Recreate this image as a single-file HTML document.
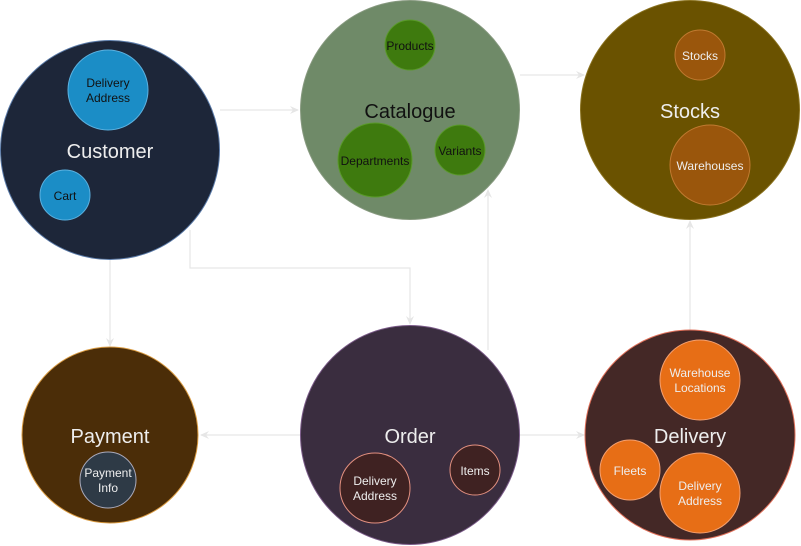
<!DOCTYPE html>
<html><head><meta charset="utf-8"><style>
html,body{margin:0;padding:0;background:#fff;width:801px;height:546px;overflow:hidden}
svg{display:block;font-family:"Liberation Sans",Arial,sans-serif}
</style></head><body>
<svg width="801" height="546" viewBox="0 0 801 546" xmlns="http://www.w3.org/2000/svg">
<defs><marker id="a" markerWidth="10" markerHeight="10" refX="8" refY="5" orient="auto" markerUnits="userSpaceOnUse"><path d="M0,1 L9,5 L0,9 L3,5 Z" fill="#e6e6e6"/></marker></defs>
<g stroke="#e6e6e6" stroke-width="1.2" fill="none">
<path d="M220,110 H298" marker-end="url(#a)"/>
<path d="M520,75 H584" marker-end="url(#a)"/>
<path d="M110,260 V346" marker-end="url(#a)"/>
<path d="M190,230 V268 H410 V324" marker-end="url(#a)"/>
<path d="M488,350 V190" marker-end="url(#a)"/>
<path d="M300,435 H201" marker-end="url(#a)"/>
<path d="M520,435 H584" marker-end="url(#a)"/>
<path d="M690,330 V221" marker-end="url(#a)"/>
</g>
<!-- Customer -->
<circle cx="110" cy="150" r="109.5" fill="#1d2639" stroke="#5a7aa8" stroke-width="1"/>
<circle cx="108" cy="90" r="40" fill="#1b8dc6" stroke="#5cb1e0"/>
<circle cx="65" cy="195" r="25" fill="#1b8dc6" stroke="#5cb1e0"/>
<!-- Catalogue -->
<circle cx="410" cy="110" r="109.5" fill="#6f8a68" stroke="#889a80"/>
<circle cx="410" cy="45" r="25" fill="#3e7a0e" stroke="#5a9a2a"/>
<circle cx="375" cy="160" r="37" fill="#3e7a0e" stroke="#5a9a2a"/>
<circle cx="460" cy="150" r="25" fill="#3e7a0e" stroke="#5a9a2a"/>
<!-- Stocks -->
<circle cx="690" cy="110" r="109.5" fill="#6a5200" stroke="#8a7220"/>
<circle cx="700" cy="55" r="25" fill="#9a560c" stroke="#c07a30"/>
<circle cx="710" cy="165" r="40" fill="#9a560c" stroke="#c07a30"/>
<!-- Payment -->
<circle cx="110" cy="435" r="88" fill="#4b2d08" stroke="#d99a40"/>
<circle cx="108" cy="480" r="28" fill="#2e3a46" stroke="#aab"/>
<!-- Order -->
<circle cx="410" cy="435" r="109.5" fill="#3a2d3f" stroke="#7a5a88"/>
<circle cx="375" cy="488" r="35" fill="#3f2222" stroke="#e39080"/>
<circle cx="475" cy="470" r="25" fill="#3f2222" stroke="#e39080"/>
<!-- Delivery -->
<circle cx="690" cy="435" r="105" fill="#442826" stroke="#e0705a"/>
<circle cx="700" cy="380" r="40" fill="#e76e16" stroke="#f4a070"/>
<circle cx="630" cy="470" r="30" fill="#e76e16" stroke="#f4a070"/>
<circle cx="700" cy="493" r="40" fill="#e76e16" stroke="#f4a070"/>
<g text-anchor="middle" font-size="12">
<text x="108" y="87" fill="#111">Delivery</text><text x="108" y="102" fill="#111">Address</text>
<text x="65" y="200" fill="#111">Cart</text>
<text x="110" y="158" font-size="20" fill="#eee">Customer</text>
<text x="410" y="50" fill="#111">Products</text>
<text x="375" y="165" fill="#111">Departments</text>
<text x="460" y="155" fill="#111">Variants</text>
<text x="410" y="118" font-size="20" fill="#111">Catalogue</text>
<text x="700" y="60" fill="#eee">Stocks</text>
<text x="710" y="170" fill="#eee">Warehouses</text>
<text x="690" y="118" font-size="20" fill="#eee">Stocks</text>
<text x="110" y="443" font-size="20" fill="#eee">Payment</text>
<text x="108" y="477" fill="#eee">Payment</text><text x="108" y="492" fill="#eee">Info</text>
<text x="410" y="443" font-size="20" fill="#eee">Order</text>
<text x="375" y="485" fill="#eee">Delivery</text><text x="375" y="500" fill="#eee">Address</text>
<text x="475" y="475" fill="#eee">Items</text>
<text x="690" y="443" font-size="20" fill="#eee">Delivery</text>
<text x="700" y="377" fill="#eee">Warehouse</text><text x="700" y="392" fill="#eee">Locations</text>
<text x="630" y="475" fill="#eee">Fleets</text>
<text x="700" y="490" fill="#eee">Delivery</text><text x="700" y="505" fill="#eee">Address</text>
</g>
</svg>
</body></html>
